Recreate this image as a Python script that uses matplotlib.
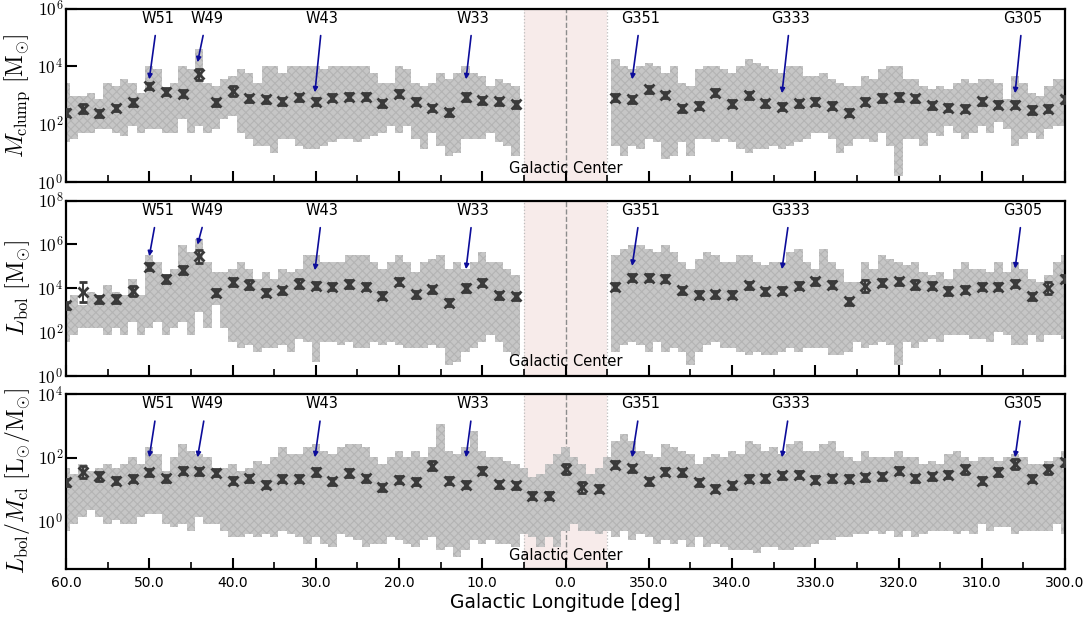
import numpy as np
import matplotlib
matplotlib.use('Agg')
import matplotlib.pyplot as plt
from matplotlib.ticker import FixedLocator, FuncFormatter, NullLocator
import matplotlib.transforms as mtransforms

plt.rcParams['mathtext.fontset'] = 'cm'
plt.rcParams['font.family'] = ['DejaVu Sans']
plt.rcParams['hatch.linewidth'] = 0.8

nan = np.nan

# ---------------- data (log10 values) ----------------
# columns of the clump cloud, one per degree of longitude (60 -> -60)
cloud_lon = list(range(60, -61, -1))

mass_hi = [3.44, 2.98, 2.98, 3.09, 2.86, 3.44, 3.32, 3.55, 3.44, 3.09,
           4.01, 3.90, 3.20, 3.44, 4.01, 3.90, 4.59, 3.44, 3.32, 3.55,
           3.67, 3.90, 3.78, 3.44, 4.01, 4.01, 3.78, 4.01, 4.01, 4.01,
           4.01, 3.90, 4.01, 4.01, 4.01, 4.01, 4.01, 3.78, 3.44, 3.44,
           4.01, 3.90, 3.44, 3.32, 3.44, 3.78, 3.55, 3.78, 4.01, 3.78,
           3.67, 3.32, 3.55, 3.44, 3.32,
           nan, nan, nan, nan, nan, nan, nan, nan, nan, nan, nan,
           4.24, 4.01, 3.90, 4.01, 4.13, 4.01, 3.78, 4.01, 3.44, 3.32,
           3.90, 4.01, 4.01, 3.90, 3.78, 4.01, 4.24, 4.13, 4.01, 3.90,
           3.78, 4.01, 4.01, 3.67, 3.67, 3.78, 3.55, 3.44, 3.32, 3.32,
           3.67, 3.55, 3.90, 4.01, 4.01, 3.55, 3.55, 3.32, 3.20, 3.32,
           3.20, 3.44, 3.55, 3.44, 3.55, 3.55, 3.44, 2.86, 3.67, 3.44,
           3.09, 2.98, 3.32, 3.55, 3.55]
mass_lo = [1.37, 1.48, 1.71, 1.71, 1.83, 1.83, 1.71, 1.60, 1.94, 1.71,
           1.83, 1.83, 1.71, 1.71, 2.17, 1.71, 1.94, 1.71, 1.83, 2.17,
           2.29, 1.71, 1.48, 1.25, 1.25, 1.02, 1.48, 1.48, 1.25, 1.14,
           1.14, 1.25, 1.37, 1.48, 1.48, 1.37, 1.48, 1.60, 1.71, 1.94,
           1.71, 1.94, 1.48, 1.14, 1.71, 1.25, 0.91, 1.02, 1.48, 1.48,
           1.48, 1.71, 1.37, 1.25, 0.91,
           nan, nan, nan, nan, nan, nan, nan, nan, nan, nan, nan,
           1.25, 0.91, 1.25, 1.14, 1.48, 1.37, 0.79, 0.91, 1.37, 0.91,
           1.48, 1.48, 1.37, 1.48, 1.37, 1.14, 1.02, 1.14, 1.14, 1.25,
           1.14, 1.25, 1.37, 1.48, 1.71, 1.71, 1.48, 1.02, 1.25, 1.48,
           1.48, 1.37, 1.71, 1.25, 0.20, 1.48, 1.48, 1.25, 1.71, 1.60,
           1.94, 1.71, 1.48, 1.71, 1.94, 1.71, 2.06, 1.83, 1.25, 1.48,
           1.71, 1.48, 1.83, 1.94, 1.94]

lbol_hi = [3.23, 3.68, 3.23, 3.84, 3.68, 4.14, 3.84, 3.68, 4.44, 3.68,
           5.50, 5.20, 4.59, 4.90, 5.96, 5.65, 6.26, 5.20, 4.75, 4.75,
           4.90, 5.20, 4.90, 4.44, 4.75, 4.44, 4.90, 4.75, 4.90, 5.50,
           5.50, 5.20, 5.20, 5.20, 5.50, 5.50, 5.50, 5.20, 4.90, 5.20,
           5.50, 5.20, 4.75, 5.20, 5.35, 5.50, 4.90, 5.20, 4.90, 5.20,
           5.65, 5.20, 5.20, 4.90, 4.59,
           nan, nan, nan, nan, nan, nan, nan, nan, nan, nan, nan,
           5.50, 5.81, 5.96, 5.96, 5.81, 5.65, 5.96, 5.65, 5.20, 4.90,
           5.35, 5.65, 5.50, 5.20, 5.20, 5.50, 5.50, 5.20, 5.05, 5.20,
           5.20, 5.65, 5.81, 5.20, 4.90, 5.81, 5.20, 4.90, 4.29, 4.29,
           5.20, 4.90, 5.50, 5.35, 5.20, 5.05, 5.20, 4.75, 4.59, 4.75,
           4.44, 4.90, 5.20, 4.90, 4.90, 4.75, 5.20, 4.75, 5.20, 4.90,
           4.44, 4.29, 4.59, 5.20, 5.50]
lbol_lo = [1.56, 1.87, 2.17, 2.17, 2.17, 1.87, 2.17, 1.87, 2.47, 1.87,
           2.17, 2.47, 1.87, 2.17, 2.47, 1.87, 2.93, 2.17, 3.23, 2.17,
           1.56, 1.26, 1.41, 1.11, 1.26, 1.26, 1.41, 1.11, 1.71, 1.56,
           0.65, 1.56, 1.56, 1.41, 1.56, 1.26, 1.26, 1.56, 1.41, 1.56,
           1.41, 1.26, 1.26, 1.26, 1.41, 1.26, 0.50, 0.65, 1.11, 1.26,
           1.56, 1.87, 1.56, 1.11, 0.96,
           nan, nan, nan, nan, nan, nan, nan, nan, nan, nan, nan,
           1.11, 1.41, 1.56, 1.41, 1.11, 1.56, 1.11, 1.26, 1.11, 0.50,
           1.11, 1.41, 1.56, 1.26, 1.26, 1.11, 0.96, 1.11, 0.96, 0.96,
           1.11, 1.26, 1.11, 1.26, 1.26, 1.26, 0.96, 0.96, 1.11, 1.56,
           1.26, 1.41, 1.56, 1.41, 0.50, 1.56, 1.26, 1.56, 1.71, 1.56,
           1.87, 1.87, 1.87, 1.71, 1.71, 1.56, 2.02, 1.87, 1.41, 1.41,
           1.87, 1.56, 1.87, 1.87, 1.71]

ratio_hi = [1.69, 1.49, 1.80, 1.59, 1.69, 1.80, 1.69, 1.80, 2.01, 1.80,
            2.32, 2.11, 1.59, 2.01, 2.42, 2.22, 2.11, 2.01, 1.59, 1.69,
            1.80, 1.59, 1.69, 1.90, 1.80, 2.01, 2.32, 2.11, 2.11, 2.32,
            2.42, 2.22, 2.11, 2.32, 2.42, 2.42, 2.32, 2.01, 1.80, 2.01,
            2.22, 2.01, 2.22, 2.01, 2.32, 3.05, 2.22, 2.11, 2.32, 2.84,
            2.22, 2.01, 2.01, 1.90, 1.80, 1.69, 1.38, 1.49, 1.80, 2.11,
            2.32, 2.01, 1.80, 1.49, 1.69, 2.01, 2.53, 2.74, 2.53, 2.22,
            2.11, 2.01, 2.42, 2.32, 2.22, 2.11, 1.80, 2.01, 2.11, 2.01,
            2.22, 2.11, 2.53, 2.42, 2.22, 2.32, 2.11, 2.42, 2.53, 2.22,
            2.22, 2.42, 2.53, 2.22, 2.01, 1.90, 2.22, 2.01, 2.01, 2.01,
            2.22, 2.01, 2.01, 1.80, 1.90, 1.80, 2.11, 2.22, 2.01, 1.90,
            2.01, 2.01, 1.90, 2.01, 2.11, 2.01, 1.80, 1.80, 1.90, 2.01,
            2.22]
ratio_lo = [-0.29, -0.08, 0.13, 0.34, 0.13, -0.08, 0.03, -0.08, -0.08, 0.13,
            0.24, 0.24, -0.08, -0.18, -0.08, -0.29, 0.13, -0.08, -0.08, -0.29,
            -0.49, -0.49, -0.39, -0.49, -0.39, -0.49, -0.29, -0.39, -0.49, -0.70,
            -0.49, -0.70, -0.80, -0.39, -0.49, -0.60, -0.80, -0.70, -0.70, -0.49,
            -0.60, -0.70, -0.80, -0.60, -0.49, -0.91, -0.80, -1.12, -0.91, -0.60,
            -0.70, -0.60, -0.70, -0.70, -0.80, -0.39, -0.49, -0.80, -0.49, -0.80,
            -0.29, -0.08, -0.29, -0.29, -0.39, -0.29, -0.49, -0.29, -0.60, -0.39,
            -0.49, -0.70, -0.60, -0.70, -0.60, -0.80, -0.49, -0.80, -0.70, -0.80,
            -0.91, -0.91, -0.91, -1.01, -0.80, -0.80, -0.91, -0.91, -0.80, -0.80,
            -0.70, -0.60, -0.60, -0.49, -0.49, -0.39, -0.39, -0.29, -0.39, -0.29,
            -0.49, -0.29, -0.49, -0.39, -0.29, -0.29, -0.29, -0.39, -0.29, -0.39,
            -0.08, -0.29, -0.18, -0.18, -0.39, -0.29, -0.29, -0.29, -0.29, -0.08,
            -0.39]

# binned medians (every 2 degrees, 60 -> -60) in log10, and half error in dex
bin_lon = list(range(60, -61, -2))
mass_med = [2.40, 2.54, 2.37, 2.56, 2.75, 3.32, 3.13, 3.05, 3.72, 2.75,
            3.15, 2.89, 2.86, 2.80, 2.93, 2.78, 2.91, 2.95, 2.95, 2.72,
            3.06, 2.77, 2.56, 2.42, 2.95, 2.83, 2.80, 2.69,
            nan, nan, nan, nan, nan,
            2.92, 2.86, 3.21, 3.01, 2.55, 2.63, 3.09, 2.71, 3.00, 2.72,
            2.60, 2.72, 2.78, 2.63, 2.40, 2.77, 2.89, 2.95, 2.90, 2.66,
            2.57, 2.54, 2.80, 2.67, 2.68, 2.48, 2.54, 2.86]
mass_err = [0.12, 0.17, 0.12, 0.12, 0.12, 0.12, 0.12, 0.12, 0.20, 0.12,
            0.16, 0.12, 0.12, 0.12, 0.12, 0.12, 0.12, 0.12, 0.12, 0.12,
            0.12, 0.12, 0.12, 0.12, 0.14, 0.12, 0.12, 0.12,
            nan, nan, nan, nan, nan,
            0.12, 0.12, 0.12, 0.12, 0.12, 0.12, 0.12, 0.12, 0.12, 0.12,
            0.12, 0.12, 0.12, 0.12, 0.12, 0.12, 0.14, 0.14, 0.12, 0.12,
            0.12, 0.12, 0.12, 0.12, 0.12, 0.14, 0.12, 0.12]

lbol_med = [3.23, 3.83, 3.50, 3.53, 3.88, 4.97, 4.41, 4.82, 5.45, 3.80,
            4.29, 4.17, 3.79, 3.91, 4.21, 4.11, 4.06, 4.21, 4.06, 3.65,
            4.29, 3.73, 3.95, 3.35, 4.01, 4.26, 3.68, 3.64,
            nan, nan, nan, nan, nan,
            4.06, 4.47, 4.47, 4.44, 3.91, 3.71, 3.73, 3.71, 4.14, 3.86,
            3.88, 4.11, 4.32, 4.17, 3.41, 4.11, 4.26, 4.32, 4.17, 4.11,
            3.86, 3.94, 4.06, 4.06, 4.21, 3.64, 4.01, 4.44]
lbol_err = [0.16, 0.45, 0.16, 0.18, 0.22, 0.16, 0.18, 0.18, 0.30, 0.16,
            0.18, 0.22, 0.16, 0.16, 0.20, 0.16, 0.16, 0.18, 0.16, 0.16,
            0.16, 0.16, 0.16, 0.16, 0.18, 0.16, 0.16, 0.16,
            nan, nan, nan, nan, nan,
            0.16, 0.16, 0.16, 0.16, 0.16, 0.16, 0.16, 0.16, 0.16, 0.16,
            0.16, 0.16, 0.16, 0.16, 0.16, 0.26, 0.16, 0.16, 0.20, 0.16,
            0.18, 0.16, 0.16, 0.16, 0.16, 0.16, 0.27, 0.16]

ratio_med = [1.23, 1.56, 1.41, 1.28, 1.33, 1.54, 1.36, 1.59, 1.57, 1.52,
             1.28, 1.35, 1.15, 1.33, 1.33, 1.56, 1.26, 1.52, 1.36, 1.07,
             1.31, 1.25, 1.75, 1.28, 1.15, 1.59, 1.16, 1.13,
             0.80, 0.80, 1.65, 1.07, 1.02,
             1.78, 1.67, 1.26, 1.56, 1.54, 1.22, 1.02, 1.13, 1.33, 1.36,
             1.44, 1.47, 1.30, 1.36, 1.33, 1.39, 1.41, 1.59, 1.36, 1.41,
             1.46, 1.63, 1.28, 1.54, 1.80, 1.33, 1.63, 1.85]
ratio_err = [0.11, 0.19, 0.13, 0.11, 0.11, 0.11, 0.11, 0.11, 0.11, 0.11,
             0.11, 0.11, 0.11, 0.11, 0.11, 0.13, 0.11, 0.13, 0.11, 0.11,
             0.11, 0.11, 0.15, 0.11, 0.11, 0.11, 0.11, 0.11,
             0.11, 0.11, 0.16, 0.17, 0.11,
             0.11, 0.11, 0.11, 0.11, 0.11, 0.11, 0.11, 0.11, 0.11, 0.11,
             0.11, 0.11, 0.11, 0.11, 0.11, 0.11, 0.11, 0.11, 0.11, 0.11,
             0.11, 0.13, 0.11, 0.13, 0.17, 0.11, 0.13, 0.11]

# labelled star-forming regions
region_names = ['W51', 'W49', 'W43', 'W33', 'G351', 'G333', 'G305']
region_text_lon = [49.0, 43.1, 29.2, 11.1, -9.0, -27.0, -54.9]
region_tip_lon = [50.0, 44.2, 30.1, 11.95, -8.0, -26.0, -54.0]
mass_tip = [3.55, 4.14, 3.10, 3.55, 3.55, 3.07, 3.07]
lbol_tip = [5.46, 5.99, 4.82, 4.87, 5.02, 4.87, 4.90]
ratio_tip = [2.01, 2.01, 2.01, 2.01, 2.01, 2.01, 2.01]

gc_lon_min, gc_lon_max = -5.0, 5.0

panels = [
    dict(hi=mass_hi, lo=mass_lo, med=mass_med, err=mass_err, tip=mass_tip,
         ylim=(1e0, 1e6), yticks=[0, 2, 4, 6],
         ylabel=r'$M_{\rm clump}\ [\mathrm{M}_{\odot}]$'),
    dict(hi=lbol_hi, lo=lbol_lo, med=lbol_med, err=lbol_err, tip=lbol_tip,
         ylim=(1e0, 1e8), yticks=[0, 2, 4, 6, 8],
         ylabel=r'$L_{\rm bol}\ [\mathrm{M}_{\odot}]$'),
    dict(hi=ratio_hi, lo=ratio_lo, med=ratio_med, err=ratio_err, tip=ratio_tip,
         ylim=(10 ** -1.5, 1e4), yticks=[0, 2, 4],
         ylabel=r'$L_{\rm bol}/M_{\rm cl}\ [\mathrm{L}_{\odot}/\mathrm{M}_{\odot}]$'),
]

# ---------------- figure ----------------
fig = plt.figure(figsize=(10.89, 6.21), dpi=100)
boxes = [[0.0606, 0.7069, 0.9174, 0.2794],
         [0.0606, 0.3945, 0.9174, 0.2826],
         [0.0606, 0.0837, 0.9174, 0.2818]]

cloud_x = np.array(cloud_lon, dtype=float)
bx = np.array(bin_lon, dtype=float)

for i, (p, box) in enumerate(zip(panels, boxes)):
    ax = fig.add_axes(box)
    ax.set_yscale('log')
    ax.set_xlim(60, -60)
    ax.set_ylim(*p['ylim'])

    # Galactic centre band
    ax.axvspan(gc_lon_min, gc_lon_max, color='#f7ebea', zorder=0, lw=0)
    ax.axvline(gc_lon_min, color='#bdbdbd', ls=':', lw=0.9, zorder=1)
    ax.axvline(gc_lon_max, color='#bdbdbd', ls=':', lw=0.9, zorder=1)
    ax.axvline(0, color='#8c8c8c', ls='--', lw=1.0, zorder=1)

    # clump cloud
    hi = np.array(p['hi'], dtype=float)
    lo = np.array(p['lo'], dtype=float)
    ok = np.isfinite(hi)
    ax.bar(cloud_x[ok], 10 ** hi[ok] - 10 ** lo[ok], bottom=10 ** lo[ok],
           width=1.0, facecolor='#c6c6c6', edgecolor='#b4b4b4', hatch='xxxx',
           lw=0, zorder=2)

    # binned medians
    med = np.array(p['med'], dtype=float)
    err = np.array(p['err'], dtype=float)
    m = np.isfinite(med)
    yv = 10 ** med[m]
    yerr = [yv - 10 ** (med[m] - err[m]), 10 ** (med[m] + err[m]) - yv]
    ax.errorbar(bx[m], yv, yerr=yerr, fmt='x', color='#3a3a3a', ms=6.5,
                mew=2.0, capsize=3.2, capthick=2.0, elinewidth=1.4, zorder=5)

    # annotations
    for name, tl, pl, tv in zip(region_names, region_text_lon, region_tip_lon, p['tip']):
        ax.annotate(name, xy=(pl, 10 ** tv), xycoords='data',
                    xytext=(tl, 0.943), textcoords=('data', 'axes fraction'),
                    ha='center', va='center', fontsize=10.5, zorder=7,
                    arrowprops=dict(arrowstyle='-|>', color='#0c0c9a', lw=1.2,
                                    mutation_scale=7, shrinkA=5, shrinkB=0))

    trans = mtransforms.blended_transform_factory(ax.transData, ax.transAxes)
    ax.text(0, 0.08, 'Galactic Center', transform=trans, ha='center',
            va='center', fontsize=10.5, zorder=7)

    # axes styling
    for s in ax.spines.values():
        s.set_linewidth(1.6)
    ax.xaxis.set_major_locator(FixedLocator(list(range(60, -61, -10))))
    ax.xaxis.set_minor_locator(FixedLocator(list(range(55, -60, -10))))
    ax.yaxis.set_major_locator(FixedLocator([10.0 ** k for k in p['yticks']]))
    ax.yaxis.set_minor_locator(NullLocator())
    ax.yaxis.set_major_formatter(FuncFormatter(lambda v, pos: r'$10^{%d}$' % round(np.log10(v))))
    ax.tick_params(which='both', direction='in', top=False, right=False)
    ax.tick_params(which='major', length=8, width=1.5)
    ax.tick_params(which='minor', length=5, width=1.2)
    ax.tick_params(axis='y', labelsize=12.5, pad=2)
    ax.tick_params(axis='x', labelsize=10, pad=5)
    ax.set_ylabel(p['ylabel'], fontsize=17)
    ax.yaxis.set_label_coords(-0.034, 0.5)
    if i < 2:
        ax.tick_params(axis='x', labelbottom=False)
    else:
        ax.xaxis.set_major_formatter(FuncFormatter(lambda v, pos: '%.1f' % (v % 360)))
        ax.set_xlabel('Galactic Longitude [deg]', fontsize=13.5, labelpad=2)

fig.savefig('out.png', dpi=100)
